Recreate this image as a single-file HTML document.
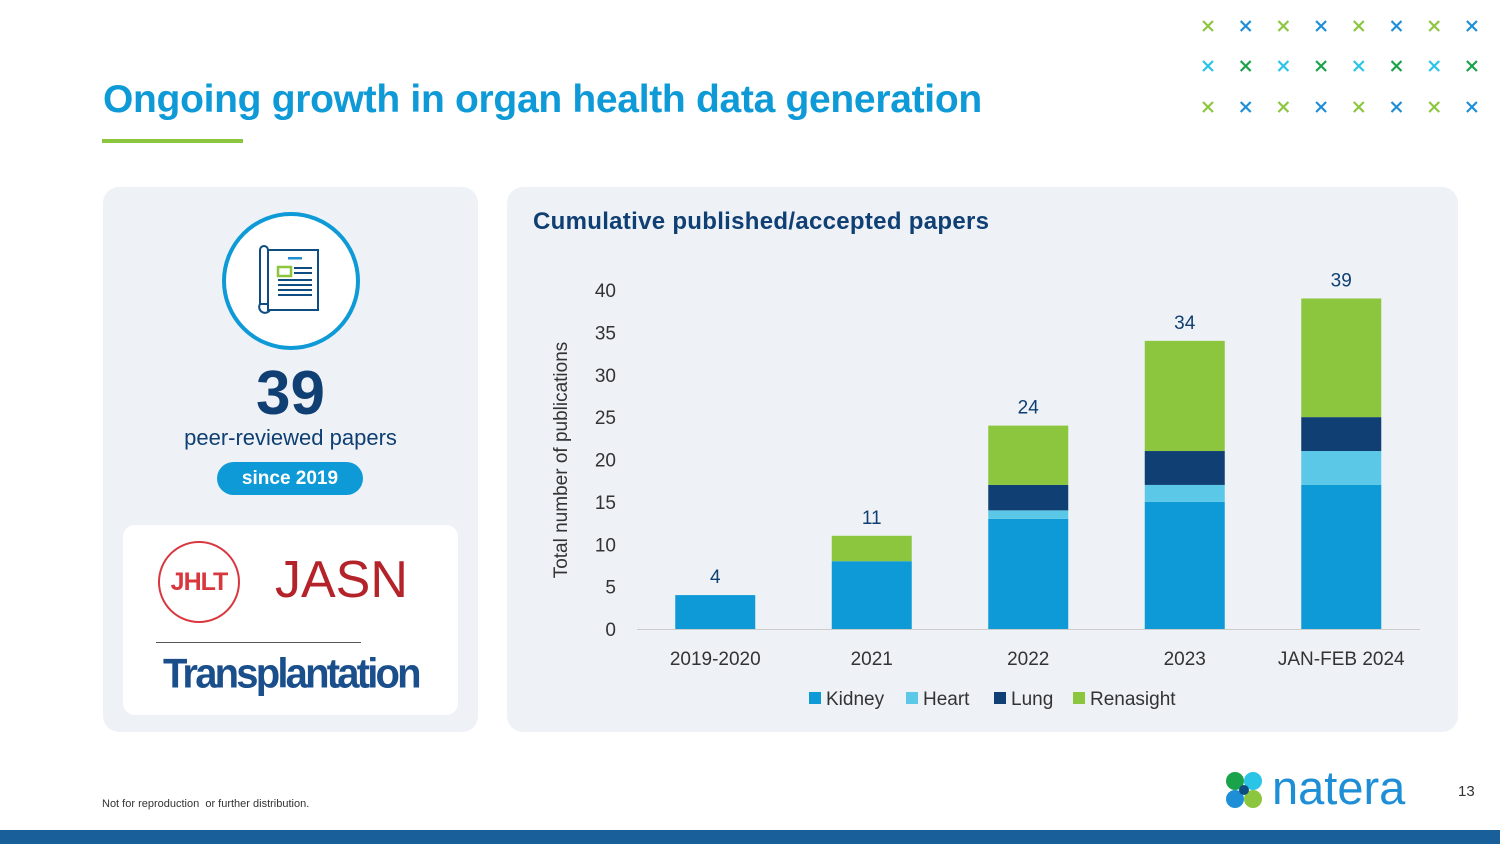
<!DOCTYPE html>
<html><head><meta charset="utf-8"><style>
body{margin:0;width:1500px;height:844px;position:relative;background:#fff;font-family:"Liberation Sans",sans-serif;overflow:hidden}
.abs{position:absolute}
</style></head><body>
<div class="abs" style="left:103px;top:78px;font-size:39px;font-weight:bold;color:#0e9ad7;letter-spacing:-0.3px">Ongoing growth in organ health data generation</div>
<div class="abs" style="left:102px;top:139px;width:141px;height:4px;background:#8cc63f"></div>
<svg class="abs" style="left:0;top:0" width="1500" height="130" id="crosses"></svg>

<div class="abs" style="left:103px;top:187px;width:375px;height:545px;background:#eef2f6;border-radius:16px"></div>
<div class="abs" style="left:222px;top:212px;width:130px;height:130px;border:4px solid #0e9ad7;border-radius:50%;background:#fff"></div>
<svg class="abs" style="left:258px;top:244px" width="64" height="74" viewBox="0 0 64 74">
<g fill="none" stroke="#0f4c81" stroke-width="2"><rect x="10" y="6" width="50" height="60"/><path d="M2 6 a4 4 0 0 1 8 0 v54 h-8 z"/><path d="M2 60 a5 5 0 0 0 10 6 h48"/></g>
<rect x="30" y="13" width="14" height="2.5" fill="#1e8fd6"/>
<rect x="20" y="23" width="13" height="9" fill="none" stroke="#8cc63f" stroke-width="2.5"/>
<g fill="#0f4c81"><rect x="36" y="23" width="18" height="2"/><rect x="36" y="28" width="18" height="2"/><rect x="20" y="35" width="34" height="2"/><rect x="20" y="40" width="34" height="2"/><rect x="20" y="45" width="34" height="2"/><rect x="20" y="50" width="34" height="2"/></g></svg>
<div class="abs" style="left:103px;width:375px;top:358px;text-align:center;font-size:62px;font-weight:bold;color:#0f3f73">39</div>
<div class="abs" style="left:103px;width:375px;top:425px;text-align:center;font-size:22px;color:#0f3f73">peer-reviewed papers</div>
<div class="abs" style="left:217px;top:462px;width:146px;height:33px;border-radius:17px;background:#0e9ad7;color:#fff;font-size:19px;font-weight:bold;text-align:center;line-height:33px">since 2019</div>
<div class="abs" style="left:123px;top:525px;width:335px;height:190px;background:#fff;border-radius:12px"></div>
<div class="abs" style="left:158px;top:541px;width:78px;height:78px;border:2.5px solid #d9373e;border-radius:50%;color:#d9373e;font-weight:bold;font-size:25px;text-align:center;line-height:78px;letter-spacing:-1px">JHLT</div>
<div class="abs" style="left:275px;top:550px;font-size:52px;color:#b4222a;line-height:60px">JASN</div>
<div class="abs" style="left:156px;top:642px;width:205px;height:1px;background:#555"></div>
<div class="abs" style="left:163px;top:652px;font-size:40px;font-weight:bold;color:#1a4f8c;letter-spacing:-2.8px;transform:scaleY(1.05)">Transplantation</div>

<div class="abs" style="left:507px;top:187px;width:951px;height:545px;background:#eef2f6;border-radius:16px"></div>
<div class="abs" style="left:533px;top:208px;font-size:24px;font-weight:bold;color:#0f3f73;letter-spacing:0.3px">Cumulative published/accepted papers</div>
<svg class="abs" id="chart" style="left:0;top:0" width="1500" height="844"></svg>

<div class="abs" style="left:102px;top:798px;font-size:11px;color:#333">Not for reproduction&nbsp; or further distribution.</div>
<svg class="abs" style="left:1224px;top:770px" width="40" height="40">
<circle cx="11" cy="11" r="9" fill="#1aa34a"/><circle cx="29" cy="11" r="9" fill="#29c4e6"/><circle cx="11" cy="29" r="9" fill="#1e8fd6"/><circle cx="29" cy="29" r="9" fill="#8cc63f"/><circle cx="20" cy="20" r="5" fill="#0f4c81"/></svg>
<div class="abs" style="left:1272px;top:760px;font-size:47px;color:#1e8fd6">natera</div>
<div class="abs" style="left:1458px;top:783px;font-size:15px;color:#333">13</div>
<div class="abs" style="left:0;top:830px;width:1500px;height:14px;background:#19609a"></div>

<script>
const categories=["2019-2020","2021","2022","2023","JAN-FEB 2024"];
const seriesNames=["Kidney","Heart","Lung","Renasight"];
const kidney=[4,8,13,15,17];
const heart=[0,0,1,2,4];
const lung=[0,0,3,4,4];
const renasight=[0,3,7,13,14];
const totals=[4,11,24,34,39];
const yTicks=[0,5,10,15,20,25,30,35,40];
const colors=["#0e9ad7","#5ac8e6","#0f3f73","#8cc63f"];
const NS="http://www.w3.org/2000/svg";
const svg=document.getElementById('chart');
const y0=629,yTop=290,yMax=40;
const y=v=>y0-(v/yMax)*(y0-yTop);
const x0=637,step=156.5;
const xc=i=>x0+step*(i+0.5);
const bw=80;
function mk(t,a,txt){const e=document.createElementNS(NS,t);for(const k in a)e.setAttribute(k,a[k]);if(txt!=null)e.textContent=txt;svg.appendChild(e);return e;}
yTicks.forEach(t=>{
const e=mk('text',{x:616,y:y(t)+7,'text-anchor':'end','font-size':19,fill:'#333'},t);


});
const ax=mk('line',{x1:x0,x2:1420,y1:y0+0.5,y2:y0+0.5,stroke:'#ccc','stroke-width':1});


const yt=mk('text',{transform:'translate(567,460) rotate(-90)','text-anchor':'middle','font-size':19,fill:'#333'},'Total number of publications');


const series=[kidney,heart,lung,renasight];
categories.forEach((c,i)=>{
let acc=0;
series.forEach((s,j)=>{
if(s[i]>0){const r=mk('rect',{x:xc(i)-bw/2,y:y(acc+s[i]),width:bw,height:y(acc)-y(acc+s[i]),fill:colors[j]});

}
acc+=s[i];
});
const tl=mk('text',{x:xc(i),y:y(totals[i])-12,'text-anchor':'middle','font-size':19,fill:'#0f3f73'},totals[i]);


const xl=mk('text',{x:xc(i),y:665,'text-anchor':'middle','font-size':19,fill:'#333'},c);


});
const lx=[809,906,994,1073];
seriesNames.forEach((n,j)=>{
const r=mk('rect',{x:lx[j],y:692,width:12,height:12,fill:colors[j]});


const t=mk('text',{x:lx[j]+17,y:705,'font-size':19,fill:'#333'},n);


});
const cs=document.getElementById('crosses');
const rowColors=[["#8cc63f","#1e8fd6"],["#29c4e6","#1aa34a"],["#8cc63f","#1e8fd6"]];
[26,66,107].forEach((cy,r)=>{for(let i=0;i<8;i++){const cx=1208+i*37.7;const col=rowColors[r][i%2];
const p=document.createElementNS(NS,'path');
p.setAttribute('d',`M${cx-5} ${cy-5}L${cx+5} ${cy+5}M${cx+5} ${cy-5}L${cx-5} ${cy+5}`);
p.setAttribute('stroke',col);p.setAttribute('stroke-width','2.2');


cs.appendChild(p);}});
</script>
</body></html>
